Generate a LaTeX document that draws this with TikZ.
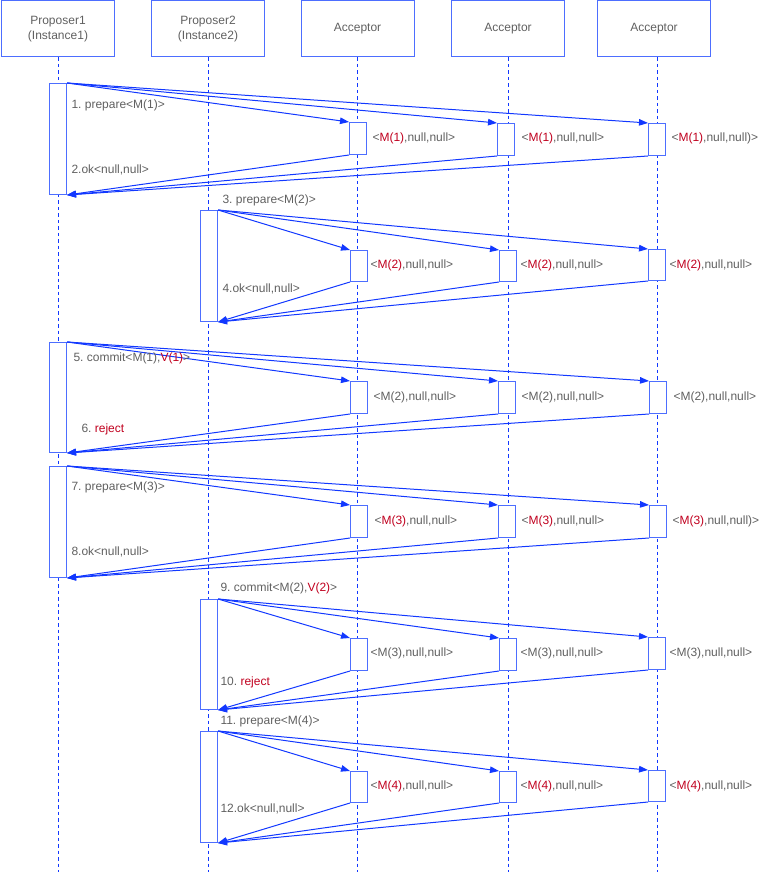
\documentclass[tikz,border=0pt]{standalone}
\usepackage{fontspec}
\setmainfont{Liberation Sans}
\usetikzlibrary{arrows.meta}
\definecolor{boxblue}{HTML}{4D6EFF}
\definecolor{msgblue}{HTML}{1238FF}
\definecolor{txtgray}{HTML}{606060}
\definecolor{hlred}{HTML}{C0001E}
\newcommand{\redpart}[1]{\textcolor{hlred}{#1}}
\frenchspacing
\tikzset{
  headbox/.style={draw=boxblue, minimum width=113pt, minimum height=56pt,
    align=center, text=txtgray, font=\fontsize{12}{14.5}\selectfont},
  actbox/.style={draw=boxblue, fill=white, anchor=north west, inner sep=0pt,
    minimum width=17pt, minimum height=32pt},
  lifeline/.style={msgblue, dash pattern=on 3.5pt off 3pt},
  msg/.style={msgblue, -{Triangle[length=9pt,width=6.5pt]}},
  msglabel/.style={anchor=west, inner sep=0pt, text=txtgray,
    font=\fontsize{12}{14}\selectfont},
}
\begin{document}
\begin{tikzpicture}[x=1pt, y=-1pt, line width=1pt]
    \useasboundingbox (0,0) rectangle (764,874);
    % header
    \node[headbox] (prop1) at (58,29) {Proposer1\\(Instance1)};
    \node[headbox] (prop2) at (208,29) {Proposer2\\(Instance2)};
    \node[headbox] (acc1) at (357.5,29) {Acceptor};
    \node[headbox] (acc2) at (508,29) {Acceptor};
    \node[headbox] (acc3) at (654,29) {Acceptor};
    % lifelines
    \coordinate (bottom) at (0,872);
    \draw[lifeline] (prop1.south) -- (prop1.south |- bottom);
    \draw[lifeline] (prop2.south) -- (prop2.south |- bottom);
    \draw[lifeline] (acc1.south) -- (acc1.south |- bottom);
    \draw[lifeline] (acc2.south) -- (acc2.south |- bottom);
    \draw[lifeline] ([xshift=3.5pt]acc3.south) -- ([xshift=3.5pt]acc3.south |- bottom);
    % 1-2: prepare M(1)
    \node[actbox, minimum height=111pt] (p1) at (49,83) {};
    \node[actbox] (a1a) at (349,122) {};
    \node[actbox] (a1b) at (497,123) {};
    \node[actbox] (a1c) at (648,123) {};
    \foreach \acc in {a,b,c} {
      \draw[msg] (p1.north east) -- (a1\acc.north west);
      \draw[msg] (a1\acc.south west) -- (p1.south east);
    }
    \node[msglabel] (m1) at (71,105) {1. prepare<M(1)>};
    \node[msglabel] (m2) at (71,170) {2.ok<null,null>};
    \node[msglabel] (s1a) at (372,138) {<\redpart{M(1)},null,null>};
    \node[msglabel] (s1b) at (521,138) {<\redpart{M(1)},null,null>};
    \node[msglabel] (s1c) at (671,138) {<\redpart{M(1)},null,null)>};
    % 3-4: prepare M(2)
    \node[actbox, minimum height=111pt] (p2) at (200,210) {};
    \node[actbox, minimum height=31pt] (a2a) at (350,250) {};
    \node[actbox, minimum height=31pt] (a2b) at (499,250) {};
    \node[actbox, minimum height=31pt] (a2c) at (648,249) {};
    \foreach \acc in {a,b,c} {
      \draw[msg] (p2.north east) -- (a2\acc.north west);
      \draw[msg] (a2\acc.south west) -- (p2.south east);
    }
    \node[msglabel] (m3) at (222,200) {3. prepare<M(2)>};
    \node[msglabel] (m4) at (222,289) {4.ok<null,null>};
    \node[msglabel] (s2a) at (370,265) {<\redpart{M(2)},null,null>};
    \node[msglabel] (s2b) at (520,265) {<\redpart{M(2)},null,null>};
    \node[msglabel] (s2c) at (669,265) {<\redpart{M(2)},null,null>};
    % 5-6: commit M(1),V(1)
    \node[actbox, minimum height=110pt] (p3) at (49,342) {};
    \node[actbox] (a3a) at (350,381) {};
    \node[actbox] (a3b) at (498,381) {};
    \node[actbox] (a3c) at (649,381) {};
    \foreach \acc in {a,b,c} {
      \draw[msg] (p3.north east) -- (a3\acc.north west);
      \draw[msg] (a3\acc.south west) -- (p3.south east);
    }
    \node[msglabel] (m5) at (73,358) {5. commit<M(1),\redpart{V(1)}>};
    \node[msglabel] (m6) at (81,429) {6. \redpart{reject}};
    \node[msglabel] (s3a) at (373,397) {<M(2),null,null>};
    \node[msglabel] (s3b) at (521,397) {<M(2),null,null>};
    \node[msglabel] (s3c) at (673,397) {<M(2),null,null>};
    % 7-8: prepare M(3)
    \node[actbox, minimum height=111pt] (p4) at (49,466) {};
    \node[actbox] (a4a) at (350,505) {};
    \node[actbox] (a4b) at (498,505) {};
    \node[actbox] (a4c) at (649,505) {};
    \foreach \acc in {a,b,c} {
      \draw[msg] (p4.north east) -- (a4\acc.north west);
      \draw[msg] (a4\acc.south west) -- (p4.south east);
    }
    \node[msglabel] (m7) at (71,487) {7. prepare<M(3)>};
    \node[msglabel] (m8) at (71,552) {8.ok<null,null>};
    \node[msglabel] (s4a) at (374,521) {<\redpart{M(3)},null,null>};
    \node[msglabel] (s4b) at (521,521) {<\redpart{M(3)},null,null>};
    \node[msglabel] (s4c) at (672,521) {<\redpart{M(3)},null,null)>};
    % 9-10: commit M(2),V(2)
    \node[actbox, minimum height=110pt] (p5) at (200,599) {};
    \node[actbox] (a5a) at (350,638) {};
    \node[actbox] (a5b) at (499,638) {};
    \node[actbox] (a5c) at (648,637) {};
    \foreach \acc in {a,b,c} {
      \draw[msg] (p5.north east) -- (a5\acc.north west);
      \draw[msg] (a5\acc.south west) -- (p5.south east);
    }
    \node[msglabel] (m9) at (220,588) {9. commit<M(2),\redpart{V(2)}>};
    \node[msglabel] (m10) at (220,682) {10. \redpart{reject}};
    \node[msglabel] (s5a) at (370,653) {<M(3),null,null>};
    \node[msglabel] (s5b) at (520,653) {<M(3),null,null>};
    \node[msglabel] (s5c) at (669,653) {<M(3),null,null>};
    % 11-12: prepare M(4)
    \node[actbox, minimum height=111pt] (p6) at (200,731) {};
    \node[actbox, minimum height=31pt] (a6a) at (350,771) {};
    \node[actbox, minimum height=31pt] (a6b) at (499,771) {};
    \node[actbox, minimum height=31pt] (a6c) at (648,770) {};
    \foreach \acc in {a,b,c} {
      \draw[msg] (p6.north east) -- (a6\acc.north west);
      \draw[msg] (a6\acc.south west) -- (p6.south east);
    }
    \node[msglabel] (m11) at (220,721) {11. prepare<M(4)>};
    \node[msglabel] (m12) at (220,809) {12.ok<null,null>};
    \node[msglabel] (s6a) at (370,786) {<\redpart{M(4)},null,null>};
    \node[msglabel] (s6b) at (520,786) {<\redpart{M(4)},null,null>};
    \node[msglabel] (s6c) at (669,786) {<\redpart{M(4)},null,null>};
  \end{tikzpicture}
\end{document}
